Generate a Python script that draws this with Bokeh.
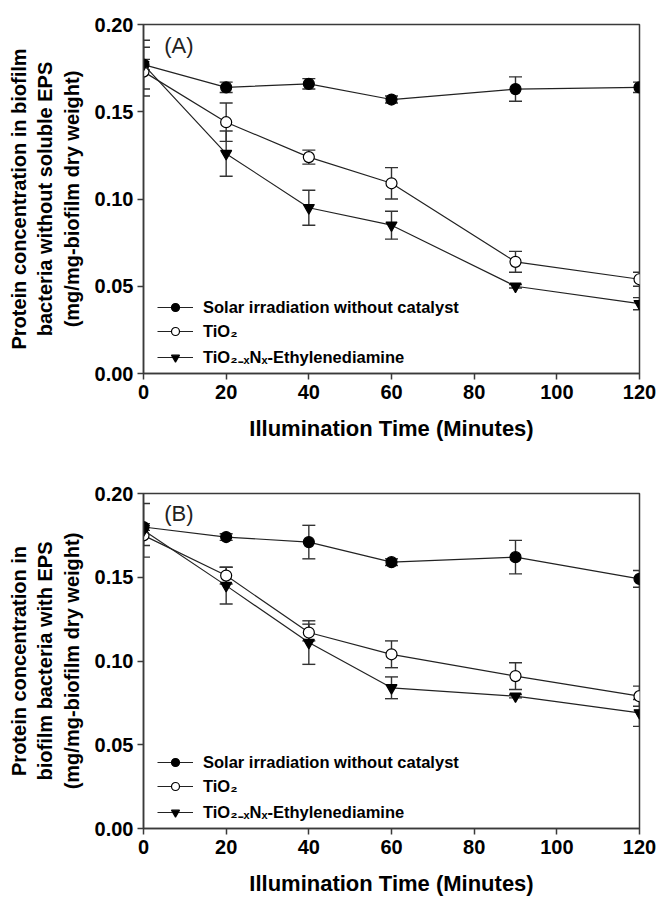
from bokeh.plotting import figure
from bokeh.models import (ColumnDataSource, Whisker, TeeHead, Legend, LegendItem,
                          Label, FixedTicker, NumeralTickFormatter, Range1d)
from bokeh.layouts import column
from bokeh.embed import file_html
from bokeh.resources import INLINE

# ---------------- data ----------------
time_min = [0, 20, 40, 60, 90, 120]
x_ticks = [0, 20, 40, 60, 80, 100, 120]
y_ticks = [0.0, 0.05, 0.10, 0.15, 0.20]

series_names = ["Solar irradiation without catalyst", "TiO\u2082",
                "TiO\u2082\u208b\u2093N\u2093-Ethylenediamine"]

# Panel A: biofilm bacteria without soluble EPS
a_solar = [0.177, 0.164, 0.166, 0.157, 0.163, 0.164]
a_solar_err = [0.003, 0.003, 0.003, 0.002, 0.007, 0.003]
a_tio2 = [0.173, 0.144, 0.124, 0.109, 0.064, 0.054]
a_tio2_err = [0.014, 0.011, 0.004, 0.009, 0.006, 0.004]
a_ndoped = [0.177, 0.126, 0.095, 0.085, 0.050, 0.040]
a_ndoped_err = [0.014, 0.013, 0.010, 0.008, 0.001, 0.0035]

# Panel B: biofilm bacteria with EPS
b_solar = [0.180, 0.174, 0.171, 0.159, 0.162, 0.149]
b_solar_err = [0.002, 0.002, 0.010, 0.002, 0.010, 0.005]
b_tio2 = [0.175, 0.151, 0.117, 0.104, 0.091, 0.079]
b_tio2_err = [0.006, 0.005, 0.005, 0.008, 0.008, 0.006]
b_ndoped = [0.178, 0.145, 0.111, 0.084, 0.079, 0.069]
b_ndoped_err = [0.016, 0.011, 0.013, 0.0065, 0.001, 0.008]

a_ylabel = "Protein concentration in biofilm\nbacteria without soluble EPS\n(mg/mg-biofilm dry weight)"
b_ylabel = "Protein concentration in\nbiofilm bacteria with EPS\n(mg/mg-biofilm dry weight)"
x_label = "Illumination Time (Minutes)"

NARROW = "'Liberation Sans Narrow', 'Arial Narrow', 'Liberation Sans', sans-serif"
SANS = "'Liberation Sans', Arial, sans-serif"
AX = "#3a3a3a"


def make_panel(tag, ylabel, ys, errs, height, borders):
    top, right, bottom, left = borders
    p = figure(width=663, height=height, output_backend="svg", toolbar_location=None,
               x_range=Range1d(0, 120), y_range=Range1d(0, 0.2),
               min_border_top=top, min_border_right=right,
               min_border_bottom=bottom, min_border_left=left)
    p.xgrid.visible = False
    p.ygrid.visible = False
    p.outline_line_color = AX
    p.outline_line_width = 1.5
    p.background_fill_color = "white"
    p.border_fill_color = "white"

    for ax in (p.xaxis[0], p.yaxis[0]):
        ax.axis_line_color = AX
        ax.axis_line_width = 1.5
        ax.major_tick_line_color = AX
        ax.major_tick_line_width = 1.5
        ax.major_tick_in = 0
        ax.major_tick_out = 6
        ax.minor_tick_line_color = None
        ax.major_label_text_font = NARROW
        ax.major_label_text_font_style = "bold"
        ax.major_label_text_font_size = "20px"
        ax.major_label_text_color = "black"
        ax.axis_label_text_color = "black"
        ax.axis_label_text_font_style = "bold"

    p.xaxis.ticker = FixedTicker(ticks=x_ticks)
    p.yaxis.ticker = FixedTicker(ticks=y_ticks)
    p.yaxis.formatter = NumeralTickFormatter(format="0.00")
    p.xaxis.axis_label = x_label
    p.xaxis.axis_label_text_font = NARROW
    p.xaxis.axis_label_text_font_size = "22px"
    p.xaxis.axis_label_standoff = 14
    p.xaxis.major_label_standoff = 5
    p.yaxis.axis_label = ylabel
    p.yaxis.axis_label_text_font = SANS
    p.yaxis.axis_label_text_font_size = "20px"
    p.yaxis.axis_label_standoff = 9
    p.yaxis.major_label_standoff = 4

    styles = [
        dict(marker="circle", fill_color="black"),
        dict(marker="circle", fill_color="white"),
        dict(marker="inverted_triangle", fill_color="black"),
    ]
    items = []
    for name, y, e, st in zip(series_names, ys, errs, styles):
        src = ColumnDataSource(dict(x=time_min, y=y,
                                    lo=[v - d for v, d in zip(y, e)],
                                    hi=[v + d for v, d in zip(y, e)]))
        w = Whisker(base="x", upper="hi", lower="lo", source=src,
                    line_color="#333333", line_width=1.4,
                    upper_head=TeeHead(size=13, line_color="#333333", line_width=1.4),
                    lower_head=TeeHead(size=13, line_color="#333333", line_width=1.4))
        p.add_layout(w)
        ln = p.line("x", "y", source=src, line_color="#222222", line_width=1.2)
        sc = p.scatter("x", "y", source=src, marker=st["marker"], size=11,
                       fill_color=st["fill_color"], line_color="black", line_width=1.2)
        items.append(LegendItem(label=name, renderers=[ln, sc]))

    leg = Legend(items=items, location=(14, 5), padding=0, margin=0, spacing=4,
                 glyph_width=36, glyph_height=20, label_height=20, label_standoff=10,
                 border_line_alpha=0, background_fill_alpha=0,
                 label_text_font=SANS, label_text_font_style="bold",
                 label_text_font_size="16.5px", label_text_color="black")
    p.add_layout(leg)

    p.add_layout(Label(x=5, y=0.188, text=tag, text_font=SANS, text_font_size="22px",
                       text_color="#222222", text_baseline="middle"))
    return p


pa = make_panel("(A)", a_ylabel, [a_solar, a_tio2, a_ndoped],
                [a_solar_err, a_tio2_err, a_ndoped_err], 449, (24, 18, 76, 143))
pb = make_panel("(B)", b_ylabel, [b_solar, b_tio2, b_ndoped],
                [b_solar_err, b_tio2_err, b_ndoped_err], 449, (44, 24, 60, 143))

layout = column(pa, pb, spacing=0)
open("out.html", "w").write(file_html(layout, INLINE))
